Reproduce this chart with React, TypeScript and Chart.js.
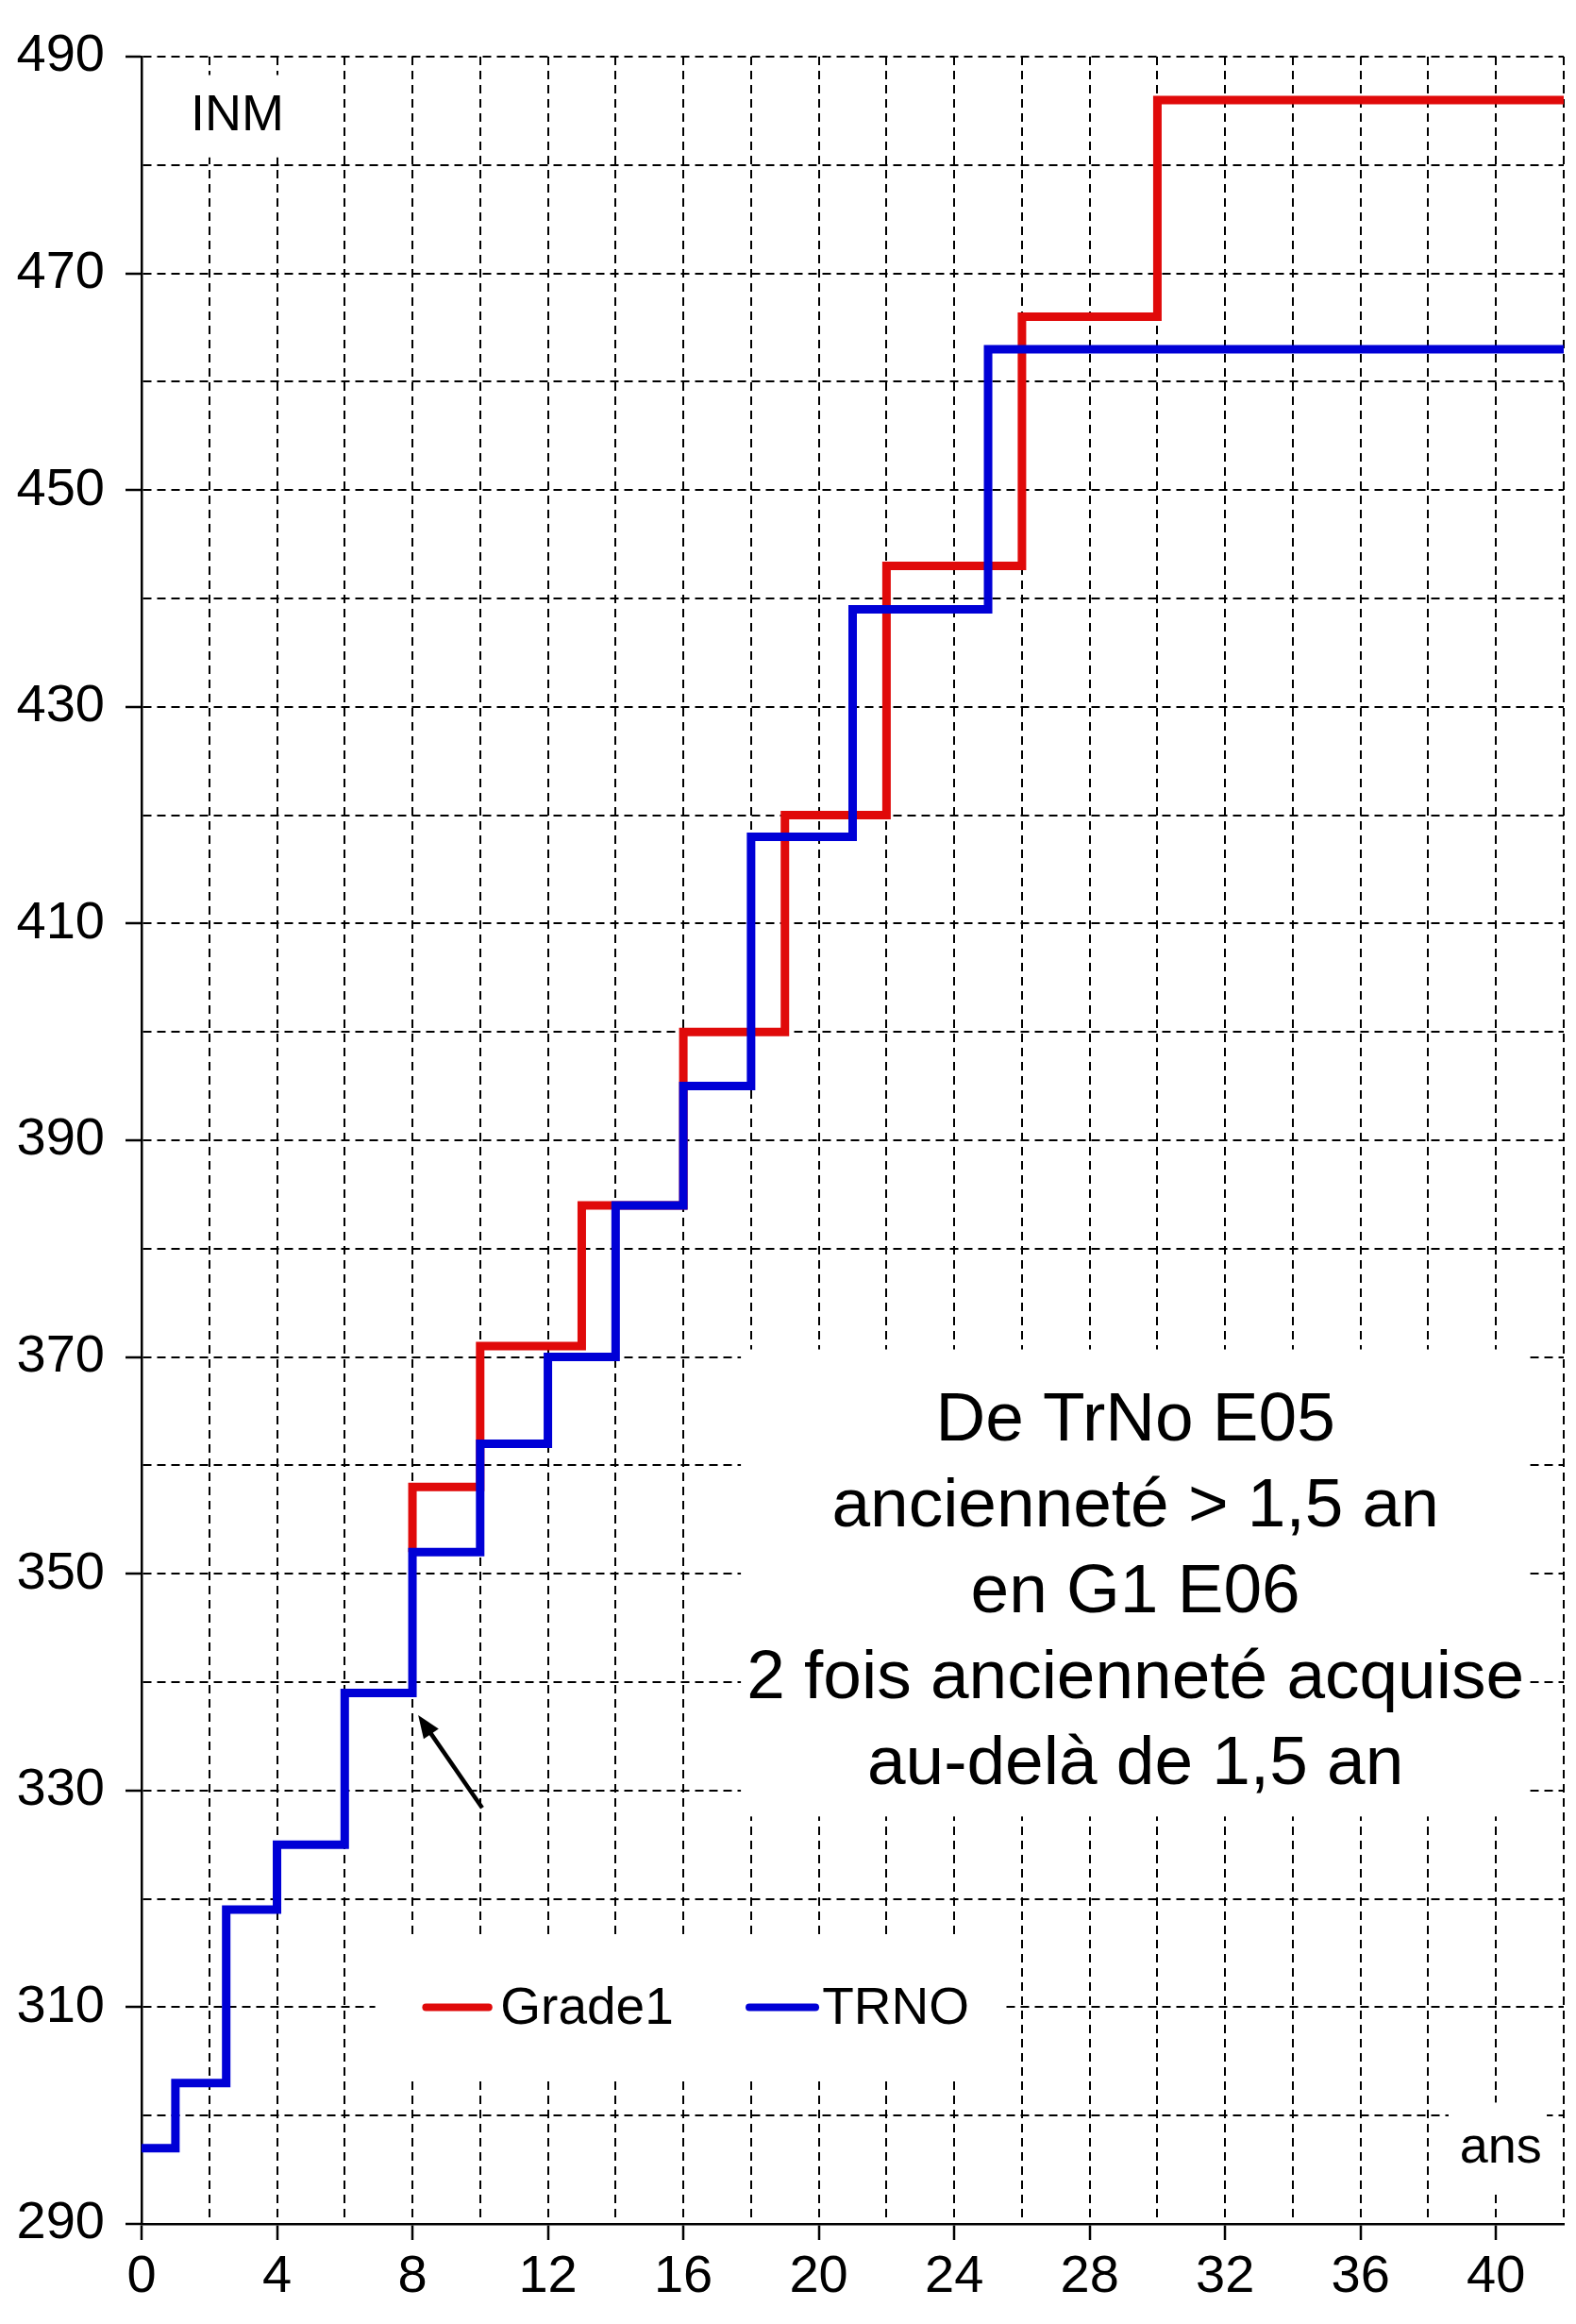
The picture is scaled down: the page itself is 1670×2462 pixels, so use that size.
import React, { useEffect, useRef } from 'react';
import { Chart, registerables } from 'chart.js';

Chart.register(...registerables);

// ---- Data ----
const TRNO_YEARS = [0, 1, 2.5, 4, 6, 8, 10, 12, 14, 16, 18, 21, 25, 42];
const TRNO_INM = [297, 303, 319, 325, 339, 352, 362, 370, 384, 395, 418, 439, 463, 463];

const GRADE1_YEARS = [8, 8, 10, 13, 16, 19, 22, 26, 30, 42];
const GRADE1_INM = [352, 358, 371, 384, 400, 420, 443, 466, 486, 486];

const SERIES_NAMES = ['Grade1', 'TRNO'];

const X_MIN = 0;
const X_MAX = 42;
const X_GRID_STEP = 2;
const X_LABEL_STEP = 4;
const Y_MIN = 290;
const Y_MAX = 490;
const Y_GRID_STEP = 10;
const Y_LABEL_STEP = 20;

const Y_AXIS_TITLE = 'INM';
const X_AXIS_TITLE = 'ans';
const NOTE_LINES = [
  'De TrNo E05',
  'ancienneté > 1,5 an',
  'en G1 E06',
  '2 fois ancienneté acquise',
  'au-delà de 1,5 an',
];

const RED = '#e00a0a';
const BLUE = '#0000d6';
const FAMILY = '"Liberation Sans", Arial, Helvetica, sans-serif';

const W = 1670;
const H = 2462;

export default function App() {
  const ref = useRef<HTMLCanvasElement | null>(null);

  useEffect(() => {
    document.body.style.margin = '0';
    const canvas = ref.current;
    if (!canvas) return;

    const annotations = {
      id: 'annotations',
      beforeDatasetsDraw(chart: any) {
        const ctx = chart.ctx as CanvasRenderingContext2D;
        const xs = chart.scales.x;
        const ys = chart.scales.y;
        const px = (v: number) => xs.getPixelForValue(v);
        const py = (v: number) => ys.getPixelForValue(v);
        const box = (x0: number, x1: number, y0: number, y1: number) => {
          ctx.fillStyle = '#ffffff';
          const a = px(x0), b = px(x1), c = py(y1), d = py(y0);
          ctx.fillRect(a, c, b - a, d - c);
        };
        ctx.save();
        // white boxes behind texts
        box(1.15, 5.75, 480.7, 488.3);
        box(38.6, 41.5, 293.1, 301.2);
        box(17.7, 41.0, 327.6, 370.7);
        box(6.9, 25.4, 303.6, 316.6);

        ctx.fillStyle = '#000';
        ctx.textBaseline = 'middle';
        ctx.textAlign = 'left';
        ctx.font = `54px ${FAMILY}`;
        ctx.fillText(Y_AXIS_TITLE, px(1.45), py(484.5));

        ctx.textAlign = 'center';
        ctx.fillText(X_AXIS_TITLE, px(40.14), py(297.0));

        // note block
        ctx.font = `73px ${FAMILY}`;
        ctx.textBaseline = 'alphabetic';
        const cx = px(29.35);
        const base0 = py(362.3);
        NOTE_LINES.forEach((t, i) => {
          ctx.fillText(t, cx, base0 + i * 91);
        });

        // legend
        const ly = py(310);
        ctx.font = `55px ${FAMILY}`;
        ctx.textBaseline = 'middle';
        ctx.textAlign = 'left';
        ctx.lineCap = 'round';
        ctx.lineWidth = 8;
        ctx.strokeStyle = RED;
        ctx.beginPath();
        ctx.moveTo(px(8.4), ly);
        ctx.lineTo(px(10.25), ly);
        ctx.stroke();
        ctx.fillText(SERIES_NAMES[0], px(10.6), ly + 2);
        ctx.strokeStyle = BLUE;
        ctx.beginPath();
        ctx.moveTo(px(17.95), ly);
        ctx.lineTo(px(19.9), ly);
        ctx.stroke();
        ctx.fillText(SERIES_NAMES[1], px(20.1), ly + 2);

        // arrow
        const ax0 = px(10.06), ay0 = py(328.4);
        const ax1 = px(8.17), ay1 = py(336.95);
        ctx.strokeStyle = '#000';
        ctx.fillStyle = '#000';
        ctx.lineWidth = 4.5;
        ctx.lineCap = 'butt';
        const ang = Math.atan2(ay1 - ay0, ax1 - ax0);
        const hl = 26, hw = 0.38;
        ctx.beginPath();
        ctx.moveTo(ax0, ay0);
        ctx.lineTo(ax1 - (hl - 4) * Math.cos(ang), ay1 - (hl - 4) * Math.sin(ang));
        ctx.stroke();
        ctx.beginPath();
        ctx.moveTo(ax1, ay1);
        ctx.lineTo(ax1 - hl * Math.cos(ang - hw), ay1 - hl * Math.sin(ang - hw));
        ctx.lineTo(ax1 - hl * Math.cos(ang + hw), ay1 - hl * Math.sin(ang + hw));
        ctx.closePath();
        ctx.fill();
        ctx.restore();
      },
    };

    const tickFont = { size: 56, family: FAMILY };

    const chart = new Chart(canvas, {
      type: 'line',
      data: {
        datasets: [
          {
            label: SERIES_NAMES[0],
            data: GRADE1_YEARS.map((x, i) => ({ x, y: GRADE1_INM[i] })),
            borderColor: RED,
            backgroundColor: RED,
            borderWidth: 9,
            stepped: 'before',
            pointRadius: 0,
            fill: false,
            order: 1,
            borderCapStyle: 'butt',
            borderJoinStyle: 'miter',
          },
          {
            label: SERIES_NAMES[1],
            data: TRNO_YEARS.map((x, i) => ({ x, y: TRNO_INM[i] })),
            borderColor: BLUE,
            backgroundColor: BLUE,
            borderWidth: 9,
            stepped: 'before',
            pointRadius: 0,
            fill: false,
            order: 0,
            borderCapStyle: 'butt',
            borderJoinStyle: 'miter',
          },
        ],
      },
      options: {
        responsive: false,
        animation: false,
        devicePixelRatio: 1,
        layout: { padding: { top: 60, right: 13, left: 0, bottom: 0 } },
        plugins: {
          legend: { display: false },
          tooltip: { enabled: false },
        },
        scales: {
          x: {
            type: 'linear',
            min: X_MIN,
            max: X_MAX,
            afterFit: (s: any) => {
              s.height = 106;
            },
            ticks: {
              stepSize: X_GRID_STEP,
              autoSkip: false,
              maxRotation: 0,
              color: '#000',
              font: tickFont,
              padding: 6,
              callback: (v: any) => (Number(v) % X_LABEL_STEP === 0 ? String(v) : ''),
            },
            grid: {
              color: '#000',
              lineWidth: 2,
              tickLength: 17,
              tickWidth: 2.5,
              tickColor: (c: any) =>
                c.tick && c.tick.value % X_LABEL_STEP === 0 ? '#000' : 'rgba(0,0,0,0)',
            },
            border: { display: true, color: '#000', width: 2.5, dash: [9, 6] },
          },
          y: {
            type: 'linear',
            min: Y_MIN,
            max: Y_MAX,
            afterFit: (s: any) => {
              s.width = 150;
            },
            ticks: {
              stepSize: Y_GRID_STEP,
              autoSkip: false,
              color: '#000',
              font: tickFont,
              padding: 22,
              callback: (v: any) =>
                (Number(v) - Y_MIN) % Y_LABEL_STEP === 0 ? String(v) : '',
            },
            grid: {
              color: '#000',
              lineWidth: 2,
              tickLength: 17,
              tickWidth: 2.5,
              tickColor: (c: any) =>
                c.tick && (c.tick.value - Y_MIN) % Y_LABEL_STEP === 0 ? '#000' : 'rgba(0,0,0,0)',
            },
            border: { display: true, color: '#000', width: 2.5, dash: [9, 6] },
          },
        },
      } as any,
      plugins: [annotations],
    });

    return () => {
      chart.destroy();
    };
  }, []);

  return (
    <div style={{ width: W, height: H, background: '#fff' }}>
      <canvas ref={ref} width={W} height={H} style={{ display: 'block', width: W, height: H }} />
    </div>
  );
}
